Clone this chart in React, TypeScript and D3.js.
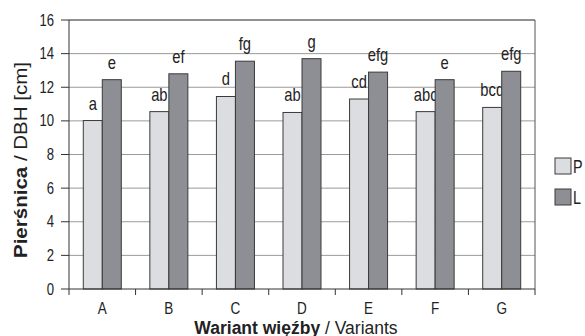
import * as d3 from 'd3';

const categories = ['A', 'B', 'C', 'D', 'E', 'F', 'G'];
const seriesNames = ['P', 'L'];
const valuesP = [10.02, 10.55, 11.45, 10.5, 11.3, 10.55, 10.8];
const valuesL = [12.45, 12.8, 13.55, 13.7, 12.9, 12.45, 12.95];
const lettersP = ['a', 'ab', 'd', 'ab', 'cd', 'abc', 'bcd'];
const lettersL = ['e', 'ef', 'fg', 'g', 'efg', 'e', 'efg'];
const yTicks = [0, 2, 4, 6, 8, 10, 12, 14, 16];

const colors = ['#dcdde0', '#8d8f95'];
const font = "'Liberation Sans', Arial, sans-serif";
const NARROW = 0.82;

// condensed text: the reference uses an Arial Narrow look
function NText({ x, y, size, anchor = 'start', dy = '0', children }: {
  x: number; y: number; size: number; anchor?: string; dy?: string; children: any;
}) {
  return (
    <text transform={`translate(${x},${y}) scale(${NARROW},1)`} dy={dy} textAnchor={anchor}
      fontSize={size} fill="#222">{children}</text>
  );
}

export default function App() {
  const W = 585;
  const H = 336;
  const margin = { left: 69, right: 50, top: 20, bottom: 47 };
  const x0 = margin.left;
  const x1 = W - margin.right;
  const yTop = margin.top;
  const yBot = H - margin.bottom;

  const x = d3.scaleBand().domain(categories).range([x0, x1]).paddingInner(0).paddingOuter(0);
  const y = d3.scaleLinear().domain([0, 16]).range([yBot, yTop]);
  const barW = 19;
  const xs = d3.scaleBand().domain(seriesNames).range([0, barW * 2]);
  const series = [valuesP, valuesL];
  const letters = [lettersP, lettersL];
  const groupOffset = (x.bandwidth() - barW * 2) / 2;

  return (
    <svg width={W} height={H} style={{ display: 'block', position: 'absolute', left: 0, top: 0 }} fontFamily={font}>
      <rect width={W} height={H} fill="#fff" />
      {/* gridlines */}
      {yTicks.filter(t => t > 0).map(t => (
        <line key={t} x1={x0} x2={x1} y1={y(t)} y2={y(t)} stroke="#9a9a9a" strokeWidth={1} />
      ))}
      {/* frame top and right */}
      <line x1={x0} x2={x1} y1={yTop} y2={yTop} stroke="#555" />
      <line x1={x1} x2={x1} y1={yTop} y2={yBot} stroke="#555" />
      {/* bars */}
      {categories.map((c, i) => (
        <g key={c} transform={`translate(${x(c)! + groupOffset},0)`}>
          {seriesNames.map((s, j) => {
            const v = series[j][i];
            return (
              <g key={s}>
                <rect x={xs(s)} y={y(v)} width={xs.bandwidth()} height={yBot - y(v)}
                  fill={colors[j]} stroke="#3a3a3a" strokeWidth={1} />
                <NText x={xs(s)! + xs.bandwidth() / 2} y={y(v) - 11} anchor="middle" size={18}>
                  {letters[j][i]}
                </NText>
              </g>
            );
          })}
        </g>
      ))}
      {/* y axis */}
      <line x1={x0} x2={x0} y1={yTop} y2={yBot} stroke="#333" />
      {yTicks.map(t => (
        <g key={t}>
          <line x1={x0 - 8} x2={x0} y1={y(t)} y2={y(t)} stroke="#333" />
          <NText x={x0 - 15} y={y(t)} dy="0.35em" anchor="end" size={16}>{t}</NText>
        </g>
      ))}
      {/* x axis */}
      <line x1={x0} x2={x1} y1={yBot} y2={yBot} stroke="#333" />
      {categories.map(c => (
        <g key={c}>
          <line x1={x(c)!} x2={x(c)!} y1={yBot} y2={yBot + 6} stroke="#333" />
          <NText x={x(c)! + x.bandwidth() / 2} y={yBot + 25} anchor="middle" size={16.5}>{c}</NText>
        </g>
      ))}
      <line x1={x1} x2={x1} y1={yBot} y2={yBot + 6} stroke="#333" />
      {/* axis titles */}
      <text x={296} y={333.5} textAnchor="middle" fontSize={17.5} fill="#222">
        <tspan fontWeight="bold">Wariant więźby</tspan> / Variants
      </text>
      <text transform="translate(27,160) rotate(-90)" textAnchor="middle" fontSize={18.5} fill="#222"
        textLength={196} lengthAdjust="spacingAndGlyphs">
        <tspan fontWeight="bold">Pierśnica</tspan> / DBH [cm]
      </text>
      {/* legend */}
      {seriesNames.map((s, j) => (
        <g key={s} transform={`translate(555,${158 + j * 31})`}>
          <rect width={16} height={16} fill={colors[j]} stroke="#3a3a3a" />
          <NText x={18} y={8.5} dy="0.35em" size={17.5}>{s}</NText>
        </g>
      ))}
    </svg>
  );
}
